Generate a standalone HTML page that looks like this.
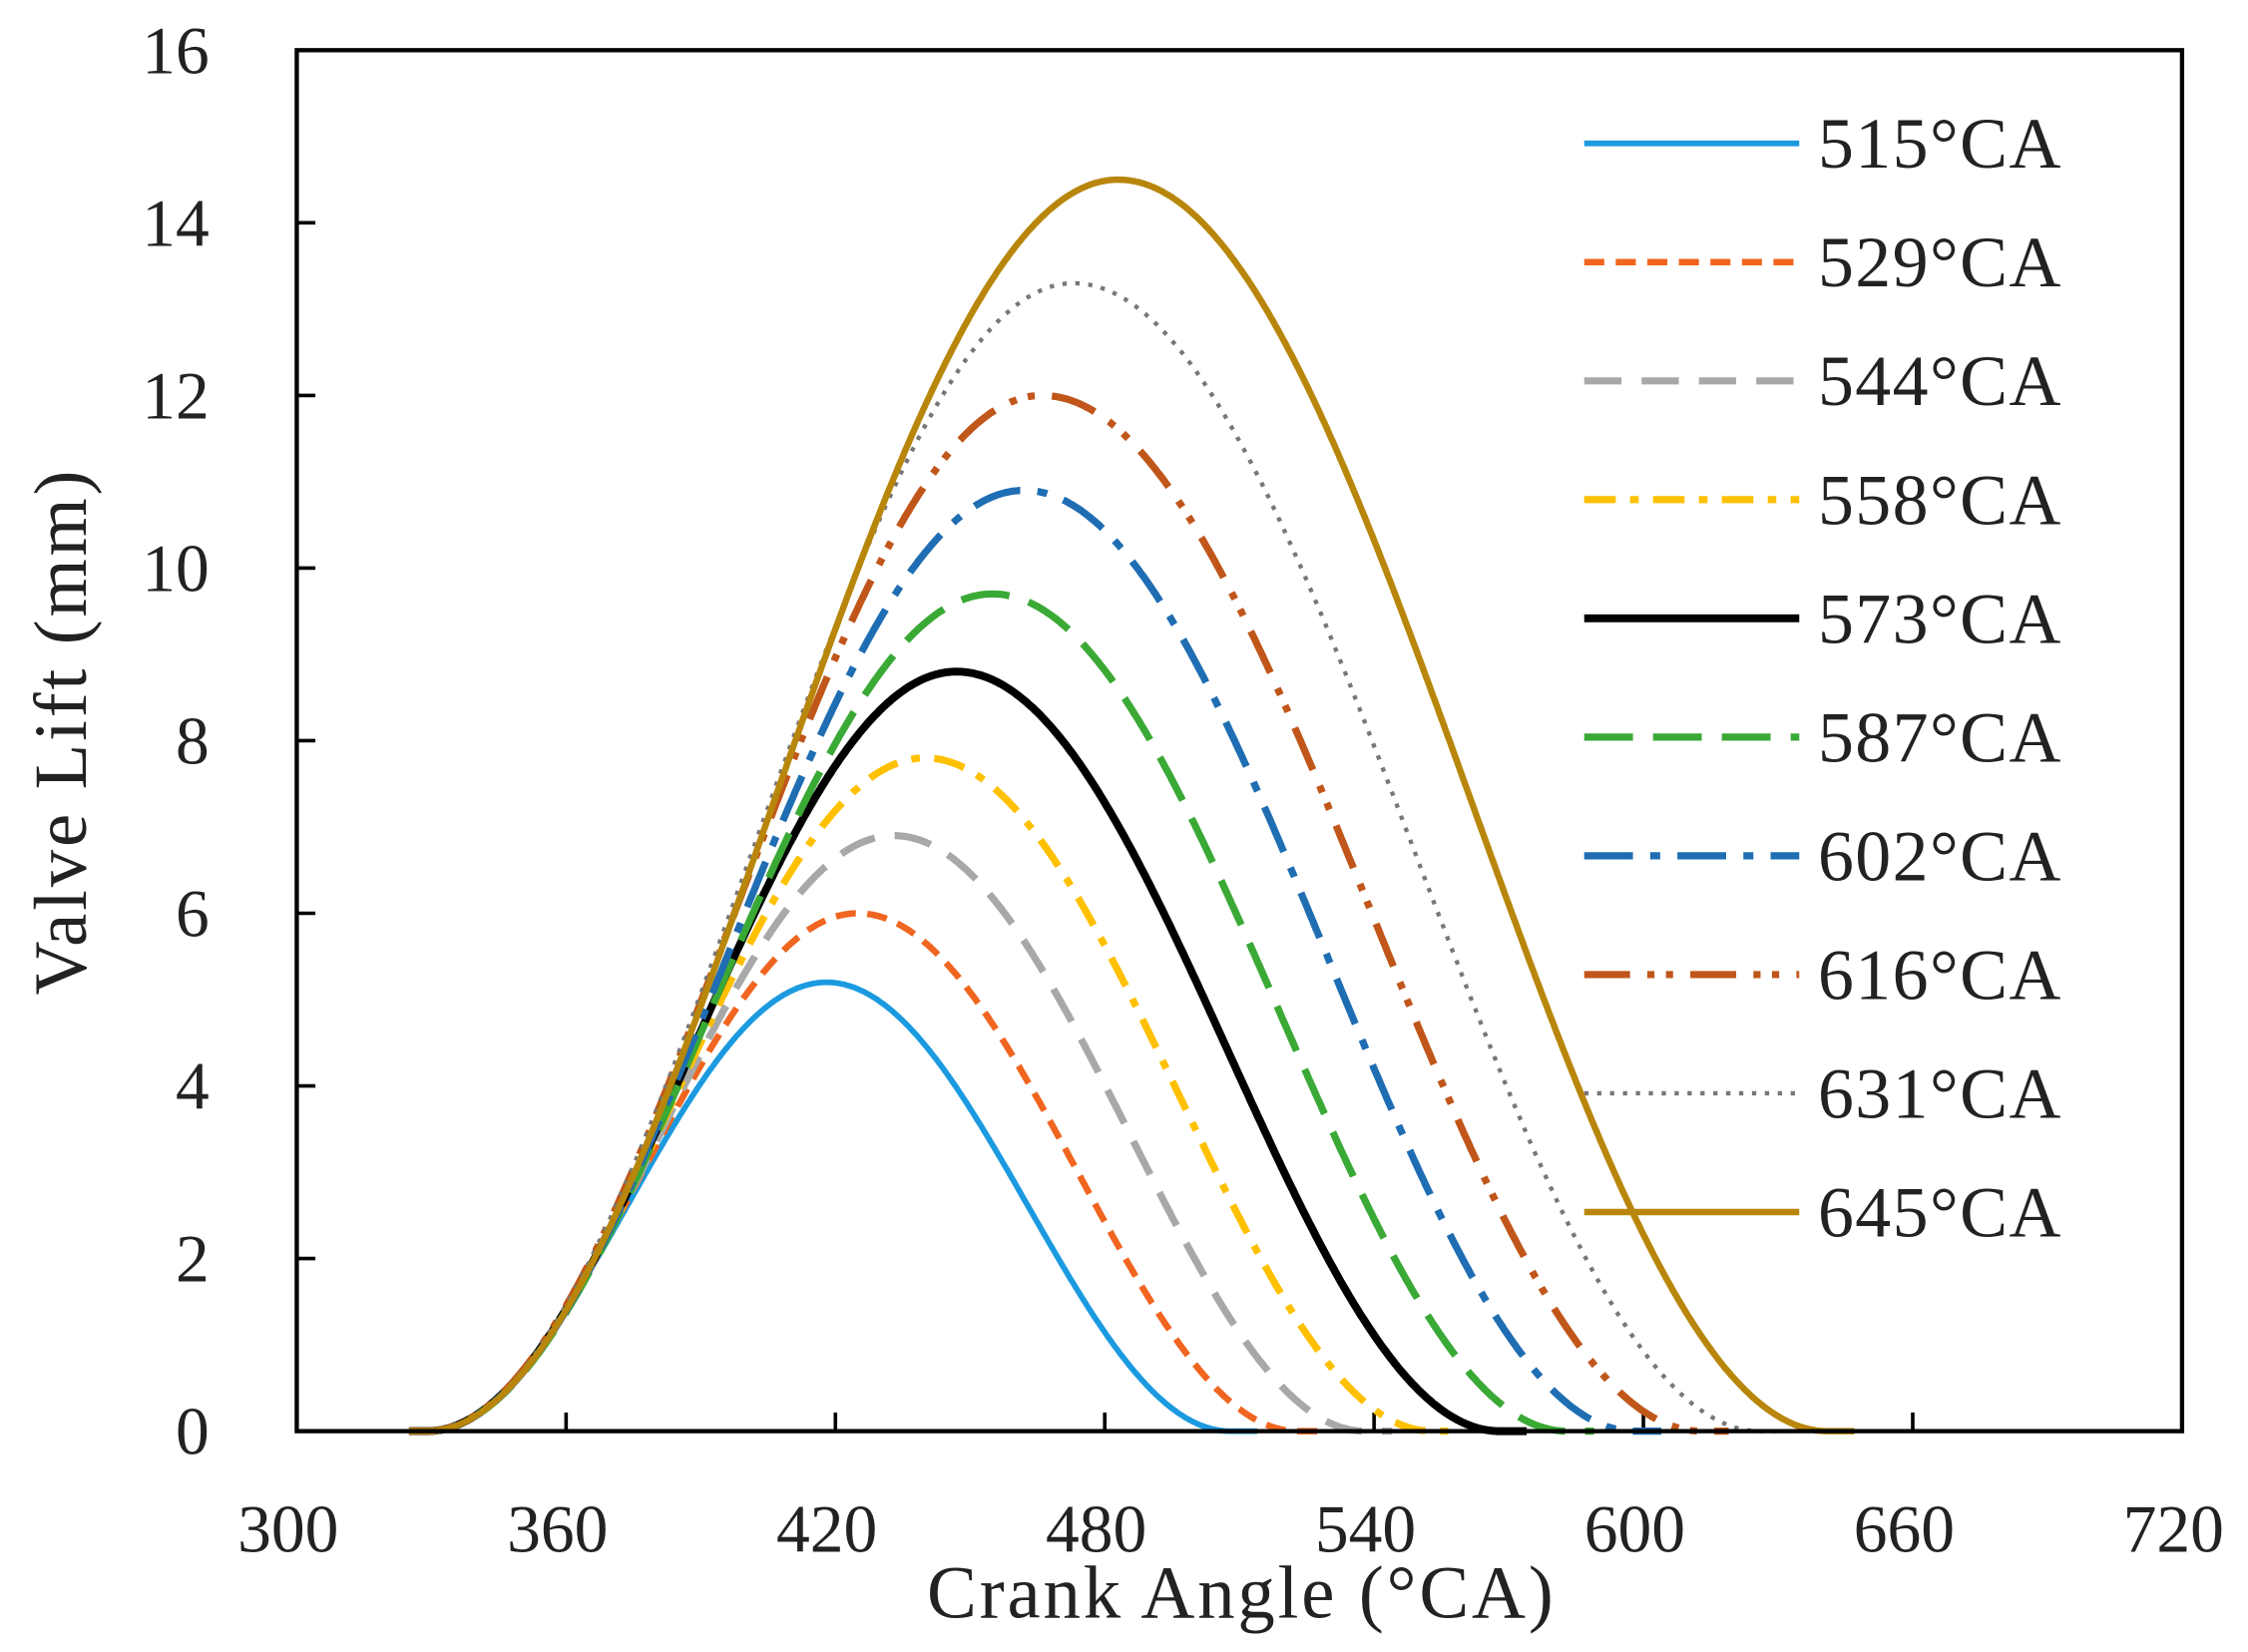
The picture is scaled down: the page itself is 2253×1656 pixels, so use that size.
<!DOCTYPE html>
<html><head><meta charset="utf-8"><style>
html,body{margin:0;padding:0;background:#fff;}
svg{display:block;}
text{font-family:"Liberation Serif",serif;fill:#222;}
</style></head><body>
<svg id="s" width="2253" height="1656" viewBox="0 0 1568 1152" preserveAspectRatio="none" xmlns="http://www.w3.org/2000/svg">
<rect x="0" y="0" width="1568" height="1152" fill="#fff"/>
<g id="g"></g>
<rect x="207" y="35" width="1315" height="963" fill="none" stroke="#000" stroke-width="3"/>
<text x="866" y="1128" font-size="52" letter-spacing="2" text-anchor="middle">Crank Angle (°CA)</text>
<text transform="translate(60,510) rotate(-90)" font-size="52" letter-spacing="2" text-anchor="middle">Valve Lift (mm)</text>
</svg>
<script>
var ns="http://www.w3.org/2000/svg",g=document.getElementById("g");
function X(t){return 207+(t-300)*1315/420;}
function Y(v){return 998-v*963/16;}
function el(n,a,txt){var e=document.createElementNS(ns,n);for(var k in a)e.setAttribute(k,a[k]);if(txt!=null)e.textContent=txt;g.appendChild(e);return e;}
for(var t=300;t<=720;t+=60){el("text",{x:X(t)-6,y:1082,"font-size":47,"text-anchor":"middle"},t);
 if(t>300&&t<720)el("line",{x1:X(t),y1:998,x2:X(t),y2:985,stroke:"#000","stroke-width":2.5});}
for(var v=0;v<=16;v+=2){el("text",{x:146,y:Y(v)+16,"font-size":47,"text-anchor":"end"},v);
 if(v>0&&v<16)el("line",{x1:207,y1:Y(v),x2:220,y2:Y(v),stroke:"#000","stroke-width":2.5});}
var S=[
["515°CA","#1b9ae0","",5.2,418,508,4],
["529°CA","#f0651f","14 8",6.0,425,523,4.5],
["544°CA","#a8a8a8","26 14",6.9,433,538,5],
["558°CA","#ffc000","22 10 6 10",7.8,440,553,5],
["573°CA","#000","",8.8,447,568,5.5],
["587°CA","#3aa935","34 14",9.7,455,583,5],
["602°CA","#1f6db2","34 12 7 12",10.9,462,598,5],
["616°CA","#c0561a","32 12 5 8 5 12",12.0,466,613,5],
["631°CA","#777","3 6",13.3,473,626,3],
["645°CA","#b8860b","",14.5,483,641,4.5]];
var s0=329;
S.forEach(function(c,i){
 var H=c[3],p=c[4],e=c[5],d="";
 for(var t=320;t<=650;t+=0.5){var v=0;
  if(t>s0&&t<=p)v=H*(1-Math.cos(Math.PI*(t-s0)/(p-s0)))/2;
  else if(t>p&&t<e)v=H*(1+Math.cos(Math.PI*(t-p)/(e-p)))/2;
  if(t<s0-4||t>e+6)continue;
  d+=(d?"L":"M")+X(t).toFixed(1)+","+Y(v).toFixed(1);}
 var a={d:d,fill:"none",stroke:c[1],"stroke-width":c[6]};if(c[2])a["stroke-dasharray"]=c[2];
 el("path",a);
 var ly=100+i*82.8;
 var b={x1:1105,y1:ly,x2:1255,y2:ly,stroke:c[1],"stroke-width":c[6]};if(c[2])b["stroke-dasharray"]=c[2];
 el("line",b);
 el("text",{x:1268,y:ly+17,"font-size":50,"letter-spacing":1},c[0]);
});
</script>
</body></html>
